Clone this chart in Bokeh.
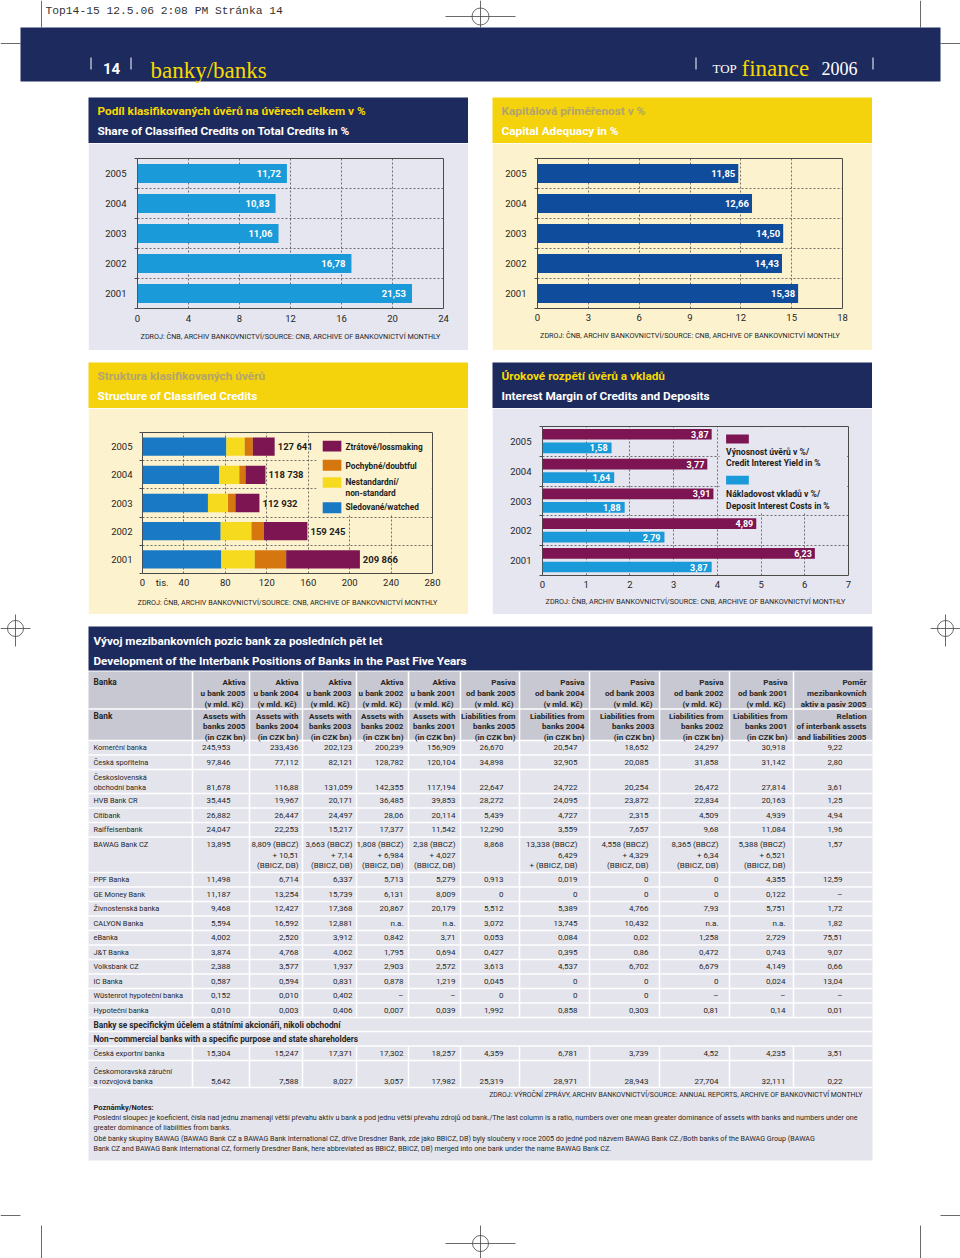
from collections import defaultdict
from bokeh.plotting import figure
from bokeh.models import Range1d, FixedTicker, Spacer, ColumnDataSource
from bokeh.layouts import column, row
from bokeh.core.properties import value
from bokeh.transform import dodge
from bokeh.embed import file_html
from bokeh.resources import INLINE

# ---------------- data ----------------
years = [2005, 2004, 2003, 2002, 2001]
classified_share = [11.72, 10.83, 11.06, 16.78, 21.53]
capital_adequacy = [11.85, 12.66, 14.50, 14.43, 15.38]
watched = [81.0, 74.2, 63.2, 75.5, 76.1]
nonstandard = [17.7, 19.3, 19.4, 29.7, 32.3]
doubtful = [7.8, 5.9, 7.1, 11.9, 30.3]
lossmaking = [21.1, 19.3, 23.2, 42.1, 71.2]
classified_total = [127.641, 118.738, 112.932, 159.245, 209.866]
classified_total_labels = ["127 641", "118 738", "112 932", "159 245", "209 866"]
credit_yield = [3.87, 3.77, 3.91, 4.89, 6.23]
deposit_costs = [1.58, 1.64, 1.88, 2.79, 3.87]

banks = ["Komerční banka", "Česká spořitelna", "Československá\nobchodní banka", "HVB Bank CR",
         "Citibank", "Raiffeisenbank", "BAWAG  Bank CZ", "PPF Banka", "GE Money Bank",
         "Živnostenská banka", "CALYON Banka", "eBanka", "J&T Banka", "Volksbank CZ", "IC Banka",
         "Wüstenrot hypoteční banka", "Hypoteční banka"]
assets_2005 = ["245,953", "97,846", "81,678", "35,445", "26,882", "24,047", "13,895", "11,498", "11,187",
               "9,468", "5,594", "4,002", "3,874", "2,388", "0,587", "0,152", "0,010"]
assets_2004 = ["233,436", "77,112", "116,88", "19,967", "26,447", "22,253", "8,809 (BBCZ)\n+ 10,51\n(BBICZ, DB)",
               "6,714", "13,254", "12,427", "16,592", "2,520", "4,768", "3,577", "0,594", "0,010", "0,003"]
assets_2003 = ["202,123", "82,121", "131,059", "20,171", "24,497", "15,217", "3,663 (BBCZ)\n+ 7,14\n(BBICZ, DB)",
               "6,337", "15,739", "17,368", "12,881", "3,912", "4,062", "1,937", "0,831", "0,402", "0,406"]
assets_2002 = ["200,239", "128,782", "142,355", "36,485", "28,06", "17,377", "1,808 (BBCZ)\n+ 6,984\n(BBICZ, DB)",
               "5,713", "6,131", "20,867", "n.a.", "0,842", "1,795", "2,903", "0,878", "–", "0,007"]
assets_2001 = ["156,909", "120,104", "117,194", "39,853", "20,114", "11,542", "2,38 (BBCZ)\n+ 4,027\n(BBICZ, DB)",
               "5,279", "8,009", "20,179", "n.a.", "3,71", "0,694", "2,572", "1,219", "–", "0,039"]
liab_2005 = ["26,670", "34,898", "22,647", "28,272", "5,439", "12,290", "8,868", "0,913", "0", "5,512",
             "3,072", "0,053", "0,427", "3,613", "0,045", "0", "1,992"]
liab_2004 = ["20,547", "32,905", "24,722", "24,095", "4,727", "3,559", "13,338 (BBCZ)\n6,429\n+ (BBICZ, DB)",
             "0,019", "0", "5,389", "13,745", "0,084", "0,395", "4,537", "0", "0", "0,858"]
liab_2003 = ["18,652", "20,085", "20,254", "23,872", "2,315", "7,657", "4,558 (BBCZ)\n+ 4,329\n(BBICZ, DB)",
             "0", "0", "4,766", "10,432", "0,02", "0,86", "6,702", "0", "0", "0,303"]
liab_2002 = ["24,297", "31,858", "26,472", "22,834", "4,509", "9,68", "8,365 (BBCZ)\n+ 6,34\n(BBICZ, DB)",
             "0", "0", "7,93", "n.a.", "1,258", "0,472", "6,679", "0", "–", "0,81"]
liab_2001 = ["30,918", "31,142", "27,814", "20,163", "4,939", "11,084", "5,388 (BBCZ)\n+ 6,521\n(BBICZ, DB)",
             "4,355", "0,122", "5,751", "n.a.", "2,729", "0,743", "4,149", "0,024", "–", "0,14"]
ratio_2005 = ["9,22", "2,80", "3,61", "1,25", "4,94", "1,96", "1,57", "12,59", "–", "1,72", "1,82",
              "75,51", "9,07", "0,66", "13,04", "–", "0,01"]

special_banks = ["Česká exportní banka", "Českomoravská záruční\na rozvojová banka"]
special_rows = [
    ["15,304", "15,247", "17,371", "17,302", "18,257", "4,359", "6,781", "3,739", "4,52", "4,235", "3,51"],
    ["5,642", "7,588", "8,027", "3,057", "17,982", "25,319", "28,971", "28,943", "27,704", "32,111", "0,22"],
]

hdr_cz = [["Aktiva", "u bank 2005", "(v  mld. Kč)"], ["Aktiva", "u bank 2004", "(v  mld. Kč)"],
          ["Aktiva", "u bank 2003", "(v  mld. Kč)"], ["Aktiva", "u bank 2002", "(v  mld. Kč)"],
          ["Aktiva", "u bank 2001", "(v  mld. Kč)"], ["Pasiva", "od bank 2005", "(v  mld. Kč)"],
          ["Pasiva", "od bank 2004", "(v  mld. Kč)"], ["Pasiva", "od bank 2003", "(v  mld. Kč)"],
          ["Pasiva", "od bank 2002", "(v  mld. Kč)"], ["Pasiva", "od bank 2001", "(v  mld. Kč)"],
          ["Poměr", "mezibankovních", "aktiv a pasiv 2005"]]
hdr_en = [["Assets with", "banks 2005", "(in CZK bn)"], ["Assets with", "banks 2004", "(in CZK bn)"],
          ["Assets with", "banks 2003", "(in CZK bn)"], ["Assets with", "banks 2002", "(in CZK bn)"],
          ["Assets with", "banks 2001", "(in CZK bn)"], ["Liabilities from", "banks 2005", "(in CZK bn)"],
          ["Liabilities from", "banks 2004", "(in CZK bn)"], ["Liabilities from", "banks 2003", "(in CZK bn)"],
          ["Liabilities from", "banks 2002", "(in CZK bn)"], ["Liabilities from", "banks 2001", "(in CZK bn)"],
          ["Relation", "of interbank assets", "and liabilities 2005"]]

SRC_CNB = "ZDROJ: ČNB, ARCHIV BANKOVNICTVÍ/SOURCE: CNB, ARCHIVE OF BANKOVNICTVÍ MONTHLY"
SRC_TABLE = "ZDROJ: VÝROČNÍ ZPRÁVY, ARCHIV BANKOVNICTVÍ/SOURCE: ANNUAL REPORTS, ARCHIVE OF BANKOVNICTVÍ MONTHLY"
NOTES = [
    "Poslední sloupec je koeficient, čísla nad jednu znamenají větší převahu aktiv u bank a pod jednu větší převahu zdrojů od bank./The last column is a ratio, numbers over one mean greater dominance of assets with banks and numbers under one",
    "greater dominance of liabilities from banks.",
    "Obě banky skupiny BAWAG (BAWAG Bank CZ a BAWAG Bank International CZ, dříve Dresdner Bank, zde jako BBICZ, DB) byly sloučeny v roce 2005 do jedné pod názvem BAWAG Bank CZ./Both banks of the BAWAG Group (BAWAG",
    "Bank CZ and BAWAG Bank International CZ, formerly Dresdner Bank, here abbreviated as BBICZ, BBICZ, DB) merged into one bank under the name BAWAG Bank CZ.",
]

# ---------------- styles ----------------
FONT = "Roboto"
SERIF = "Liberation Serif"
MONO = "Liberation Mono"
NAVY = "#1d2a5e"
BAND_YELLOW = "#f4d20c"
TXT_YELLOW = "#f7d900"
TXT_KHAKI = "#b3a46c"
LAVENDER = "#e6e6f1"
CREAM = "#fdf2ce"
DARK = "#1e1e1e"
BLUE_LIGHT = "#1a9ad8"
BLUE_DARK = "#0f4c9c"
BLUE_MID = "#1a79c4"
PURPLE = "#7c1551"
ORANGE = "#d5760f"
YELLOW_BAR = "#f6da1e"
GRID = "#4d4d4d"


def blank(width, height, xr, yr, bg="white"):
    f = figure(width=width, height=height, x_range=Range1d(*xr), y_range=Range1d(*yr),
               x_axis_type=None, y_axis_type=None, output_backend="svg", toolbar_location=None,
               min_border=0, background_fill_color=bg, border_fill_color=bg, outline_line_color=None)
    return f


def put_text(f, x, y, text, size, color=DARK, style="normal", align="left", baseline="middle", font=FONT):
    f.text(x=x, y=y, text=text, text_font=value(font), text_font_size=size, text_font_style=style,
           text_color=color, text_align=align, text_baseline=baseline)


def title_fig(l1, l2, band, c1):
    f = blank(380, 46, (0, 380), (46, 0), bg=band)
    put_text(f, [9, 9], [13, 33], [l1, l2], "11.8px", color=[c1, "white"], style="bold")
    return f


def chart(xmax, xticks, height, bl, br, bt, bb, bg, tick_so, year_so, src_so, overrides=None, grid_ticks=None):
    p = figure(width=380, height=height, x_range=Range1d(0, xmax), y_range=Range1d(2000.5, 2005.5),
               output_backend="svg", toolbar_location=None,
               min_border_left=bl, min_border_right=br, min_border_top=bt, min_border_bottom=bb,
               background_fill_color=bg, border_fill_color=bg, outline_line_color="#4a4a4a",
               outline_line_width=1)
    p.xaxis.ticker = FixedTicker(ticks=xticks)
    if overrides:
        p.xaxis.major_label_overrides = overrides
    p.xgrid.ticker = FixedTicker(ticks=grid_ticks if grid_ticks else [t for t in xticks if 0 < t < xmax])
    p.yaxis.ticker = FixedTicker(ticks=years, minor_ticks=[y - 0.5 for y in years] + [2005.5])
    p.ygrid.ticker = FixedTicker(ticks=[2001.5, 2002.5, 2003.5, 2004.5])
    for g in (p.xgrid[0], p.ygrid[0]):
        g.grid_line_color = GRID
        g.grid_line_dash = "2 2"
        g.grid_line_width = 0.8
    for ax in (p.xaxis[0], p.yaxis[0]):
        ax.axis_line_color = None
        ax.major_tick_line_color = None
        ax.major_tick_out = 0
        ax.major_label_text_font = FONT
        ax.major_label_text_font_size = "9.5px"
        ax.major_label_text_color = DARK
    p.xaxis.minor_tick_line_color = None
    p.yaxis.minor_tick_out = 3
    p.yaxis.minor_tick_in = 0
    p.yaxis.minor_tick_line_color = GRID
    p.xaxis.major_label_standoff = tick_so
    p.yaxis.major_label_standoff = year_so
    p.xaxis.axis_label = SRC_CNB
    p.xaxis.axis_label_text_font = FONT
    p.xaxis.axis_label_text_font_size = "7.2px"
    p.xaxis.axis_label_text_font_style = "normal"
    p.xaxis.axis_label_text_color = DARK
    p.xaxis.axis_label_standoff = src_so
    return p


def comma(v):
    return f"{v:.2f}".replace(".", ",")


# ---------------- top header ----------------
top = blank(960, 97, (0, 960), (97, 0))
put_text(top, [45], [10], ["Top14-15  12.5.06  2:08 PM  Stránka 14"], "11.3px", color="#333", font=MONO)
top.segment(x0=[445, 480, 41, 920, 0, 940], y0=[16, 0, 0, 0, 43, 43],
            x1=[515, 480, 41, 920, 20, 960], y1=[16, 27, 27, 27, 43, 43], line_color="#444", line_width=0.8)
top.circle(x=[480], y=[16], radius=8.5, fill_color=None, line_color="#444", line_width=0.8)
top.quad(left=[20], right=[940], top=[27], bottom=[81], fill_color=NAVY, line_color=None)
top.segment(x0=[90.5, 130.5, 695.5, 872.5], y0=[57] * 4, x1=[90.5, 130.5, 695.5, 872.5], y1=[69] * 4,
            line_color="white", line_width=1)
put_text(top, [111], [68], ["14"], "15px", color="white", style="bold", align="center", baseline="alphabetic")
put_text(top, [150], [70], ["banky/banks"], "23px", color=TXT_YELLOW, baseline="alphabetic", font=SERIF)
put_text(top, [712], [68], ["TOP"], "13px", color="white", baseline="alphabetic", font=SERIF)
put_text(top, [741], [68], ["finance"], "23px", color=TXT_YELLOW, baseline="alphabetic", font=SERIF)
put_text(top, [821], [68], ["2006"], "18px", color="white", baseline="alphabetic", font=SERIF)

# ---------------- chart 1 ----------------
t1 = title_fig("Podíl klasifikovaných úvěrů na úvěrech celkem v %", "Share of Classified Credits on Total Credits in %",
               NAVY, TXT_YELLOW)
p1 = chart(24, [0, 4, 8, 12, 16, 20, 24], 207, 49, 25, 15, 42, LAVENDER, 6, 8, 7)
s1 = ColumnDataSource(dict(y=years, v=classified_share, lbl=[comma(v) for v in classified_share]))
p1.hbar(y="y", right="v", left=0, height=0.63, source=s1, fill_color=BLUE_LIGHT, line_color=None)
p1.text(x="v", y="y", text="lbl", source=s1, x_offset=-6, text_align="right", text_baseline="middle",
        text_font=value(FONT), text_font_size="9.5px", text_font_style="bold", text_color="white")

# ---------------- chart 2 ----------------
t2 = title_fig("Kapitálová přiměřenost v %", "Capital Adequacy in %", BAND_YELLOW, TXT_KHAKI)
p2 = chart(18, [0, 3, 6, 9, 12, 15, 18], 207, 45, 30, 15, 42, CREAM, 5, 8, 7)
s2 = ColumnDataSource(dict(y=years, v=capital_adequacy, lbl=[comma(v) for v in capital_adequacy]))
p2.hbar(y="y", right="v", left=0, height=0.64, source=s2, fill_color=BLUE_DARK, line_color=None)
p2.text(x="v", y="y", text="lbl", source=s2, x_offset=-3, text_align="right", text_baseline="middle",
        text_font=value(FONT), text_font_size="9.5px", text_font_style="bold", text_color="white")

# ---------------- chart 3 ----------------
t3 = title_fig("Struktura klasifikovaných úvěrů", "Structure of Classified Credits", BAND_YELLOW, TXT_KHAKI)
p3 = chart(280, [0, 19, 40, 80, 120, 160, 200, 240, 280], 206, 54, 36, 24, 41, CREAM, 3, 7, 7,
           overrides={19: "tis."}, grid_ticks=[40, 80, 120, 160, 200, 240])
s3 = ColumnDataSource(dict(y=years, watched=watched, nonstandard=nonstandard, doubtful=doubtful,
                           lossmaking=lossmaking, total=classified_total, lbl=classified_total_labels))
p3.hbar_stack(["watched", "nonstandard", "doubtful", "lossmaking"], y="y", height=0.65, source=s3,
              fill_color=[BLUE_MID, YELLOW_BAR, ORANGE, PURPLE], line_color=None)
p3.text(x="total", y="y", text="lbl", source=s3, x_offset=3, text_align="left", text_baseline="middle",
        text_font=value(FONT), text_font_size="9.5px", text_font_style="bold", text_color=DARK)
# legend
p3.quad(left=[168], right=[279.3], top=[2005.47], bottom=[2002.6], fill_color=CREAM, line_color=None)
p3.quad(left=[174] * 4, right=[192] * 4, top=[2005.207, 2004.536, 2003.911, 2003.028],
        bottom=[2004.829, 2004.148, 2003.537, 2002.640], fill_color=[PURPLE, ORANGE, YELLOW_BAR, BLUE_MID],
        line_color=None)
put_text(p3, [196] * 5, [2004.995, 2004.324, 2003.734, 2003.360, 2002.852],
         ["Ztrátové/lossmaking", "Pochybné/doubtful", "Nestandardní/", "non-standard", "Sledované/watched"],
         "8.3px", style="bold")

# ---------------- chart 4 ----------------
t4 = title_fig("Úrokové rozpětí úvěrů a vkladů", "Interest Margin of Credits and Deposits", NAVY, TXT_YELLOW)
p4 = chart(7, [0, 1, 2, 3, 4, 5, 6, 7], 206, 50, 24, 18, 39, LAVENDER, 5, 8, 6)
s4 = ColumnDataSource(dict(y=years, cy=credit_yield, dc=deposit_costs,
                           lc=[comma(v) for v in credit_yield], ld=[comma(v) for v in deposit_costs]))
p4.hbar(y=dodge("y", 0.24), right="cy", left=0, height=0.36, source=s4, fill_color=PURPLE, line_color=None)
p4.hbar(y=dodge("y", -0.215), right="dc", left=0, height=0.36, source=s4, fill_color=BLUE_LIGHT, line_color=None)
p4.text(x="cy", y=dodge("y", 0.24), text="lc", source=s4, x_offset=-3, text_align="right", text_baseline="middle",
        text_font=value(FONT), text_font_size="9px", text_font_style="bold", text_color="white")
p4.text(x="dc", y=dodge("y", -0.215), text="ld", source=s4, x_offset=-4, text_align="right",
        text_baseline="middle", text_font=value(FONT), text_font_size="9px", text_font_style="bold",
        text_color="white")
p4.quad(left=[4.05], right=[6.97], top=[2005.47], bottom=[2002.62], fill_color=LAVENDER, line_color=None)
p4.quad(left=[4.2, 4.2], right=[4.72, 4.72], top=[2005.23, 2003.85], bottom=[2004.93, 2003.55],
        fill_color=[PURPLE, BLUE_LIGHT], line_color=None)
put_text(p4, [4.2] * 4, [2004.64, 2004.26, 2003.25, 2002.84],
         ["Výnosnost úvěrů v %/", "Credit Interest Yield in %", "Nákladovost vkladů v %/", "Deposit Interest Costs in %"],
         "8.6px", style="bold")

# ---------------- table ----------------
tbl = blank(960, 644, (0, 960), (1258, 614))
# crop marks
tbl.segment(x0=[0, 15, 930, 945, 445, 480, 41, 0, 920, 940], y0=[628, 610, 628, 610, 1243, 1225, 1225, 1215, 1225, 1215],
            x1=[30, 15, 960, 945, 515, 480, 41, 20, 920, 960], y1=[628, 646, 628, 646, 1243, 1258, 1258, 1215, 1258, 1215],
            line_color="#444", line_width=0.8)
tbl.circle(x=[15, 945, 480], y=[628, 628, 1243], radius=8, fill_color=None, line_color="#444", line_width=0.8)

HDR_BG = "#c8c8d3"
CELL_BG = "#e4e4ed"
tbl.quad(left=[88], right=[872], top=[626], bottom=[670], fill_color=NAVY, line_color=None)
tbl.quad(left=[88, 88], right=[872, 872], top=[671, 708.5], bottom=[708.5, 740], fill_color=HDR_BG, line_color=None)
tbl.quad(left=[88], right=[872], top=[740], bottom=[1160], fill_color=CELL_BG, line_color=None)
put_text(tbl, [93, 93], [640, 660], ["Vývoj mezibankovních pozic bank za posledních pět let",
                                      "Development of the Interbank Positions of Banks in the Past Five Years"],
         "11.7px", color="white", style="bold")

sep_x = [192, 249, 302, 356, 408, 460, 519, 589, 659, 729, 793]
hdr_right = [245, 298, 351, 403, 455, 515, 584, 654, 723, 787, 866]
val_right = [230, 298, 352, 403, 455, 503, 577, 648, 718, 785, 842]
main_heights = [14.5, 14.5, 24, 14.5, 14.5, 14.5, 35.5, 14.5, 14.5, 14.5, 14.5, 14.5, 14.5, 14.5, 14.5, 14.5, 14.5]

groups = defaultdict(lambda: {"x": [], "y": [], "text": []})


def put(key, x, y, s):
    g = groups[key]
    g["x"].append(x)
    g["y"].append(y)
    g["text"].append(s)


# headers
put("hl", 93, 681, "Banka")
put("hl", 93, 715, "Bank")
for j in range(11):
    for k, line in enumerate(hdr_cz[j]):
        put("hr", hdr_right[j], 681 + 11 * k, line)
    for k, line in enumerate(hdr_en[j]):
        put("hr", hdr_right[j], 715 + 10.5 * k, line)

columns = [assets_2005, assets_2004, assets_2003, assets_2002, assets_2001,
           liab_2005, liab_2004, liab_2003, liab_2002, liab_2001, ratio_2005]


def draw_row(top_y, h, name, vals):
    bottom = top_y + h
    name_lines = name.split("\n")
    multi_val = any("\n" in v for v in vals)
    if len(name_lines) > 1:
        ny = [bottom - 6.5 - 9.5 * (len(name_lines) - 1 - k) for k in range(len(name_lines))]
        vy0 = bottom - 6.5
    elif multi_val:
        ny = [top_y + 7.5]
        vy0 = top_y + 7.5
    else:
        ny = [top_y + h / 2]
        vy0 = top_y + h / 2
    for k, line in enumerate(name_lines):
        put("name", 93, ny[k], line)
    for j, v in enumerate(vals):
        for k, line in enumerate(v.split("\n")):
            put("val", val_right[j], vy0 + 10.7 * k, line)
    return bottom


y = 740
h_lines = [708.5, 740]
for i, name in enumerate(banks):
    y = draw_row(y, main_heights[i], name, [c[i] for c in columns])
    h_lines.append(y)
main_bottom = y
put("hl", 93, y + 7, "Banky se specifickým účelem a státními akcionáři, nikoli obchodní")
y += 14
h_lines.append(y)
put("hl", 93, y + 7.25, "Non–commercial banks with a specific purpose and state shareholders")
y += 14.5
h_lines.append(y)
spec_top = y
for i, name in enumerate(special_banks):
    y = draw_row(y, [14.5, 27][i], name, special_rows[i])
    h_lines.append(y)
spec_bottom = y

tbl.segment(x0=[88] * len(h_lines), y0=h_lines, x1=[872] * len(h_lines), y1=h_lines, line_color="white",
            line_width=1.5)
tbl.segment(x0=sep_x + sep_x, y0=[671] * 11 + [spec_top] * 11, x1=sep_x + sep_x,
            y1=[main_bottom] * 11 + [spec_bottom] * 11, line_color="white", line_width=1.5)

put("src", 862, 1094, SRC_TABLE)
put("nb", 93, 1107, "Poznámky/Notes:")
for k, line in enumerate(NOTES):
    put("note", 93, 1117 + 10.3 * k, line)

styles = {
    "hl": ("8.3px", "bold", "left"),
    "hr": ("8.1px", "bold", "right"),
    "name": ("7.4px", "normal", "left"),
    "val": ("8px", "normal", "right"),
    "src": ("6.9px", "normal", "right"),
    "nb": ("7.5px", "bold", "left"),
    "note": ("7.15px", "normal", "left"),
}
for key, g in groups.items():
    size, style, align = styles[key]
    put_text(tbl, g["x"], g["y"], g["text"], size, color="#262626", style=style, align=align)

# ---------------- layout ----------------
row1 = row(Spacer(width=88, height=253), column(row(t1), row(p1)), Spacer(width=24, height=253),
           column(row(t2), row(p2)), Spacer(width=88, height=253))
row2 = row(Spacer(width=88, height=252), column(row(t3), row(p3)), Spacer(width=24, height=252),
           column(row(t4), row(p4)), Spacer(width=88, height=252))
page = column(top, row1, Spacer(width=960, height=12), row2, tbl)

open("out.html", "w").write(file_html(page, INLINE))
